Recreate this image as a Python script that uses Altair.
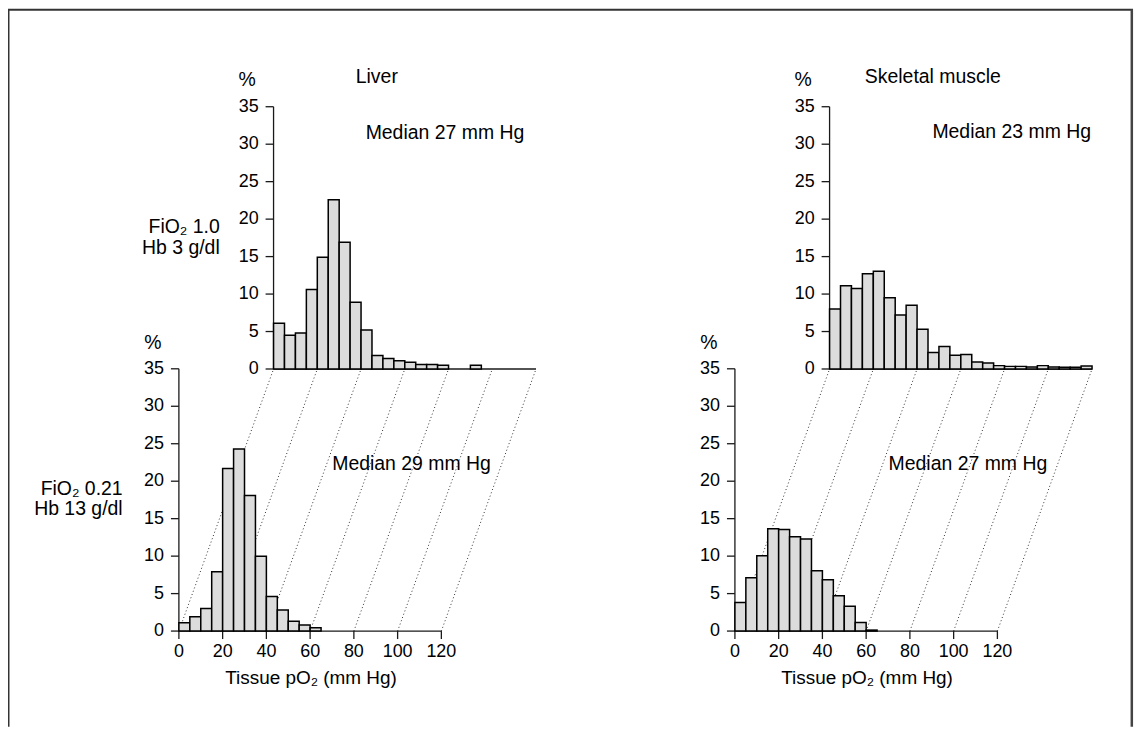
import altair as alt
import pandas as pd

# ---------------- data ----------------
BIN_WIDTH = 5
X_TICKS = [0, 20, 40, 60, 80, 100, 120]
Y_TICKS = [0, 5, 10, 15, 20, 25, 30, 35]

# % of measurements per 5 mm Hg bin, starting at 0 mm Hg
liver_fio2_100 = [6.1, 4.5, 4.8, 10.6, 14.9, 22.6, 16.9, 8.9, 5.2, 1.8, 1.4, 1.1,
                  0.9, 0.6, 0.6, 0.5, 0.0, 0.0, 0.5]
liver_fio2_021 = [1.1, 1.9, 3.0, 7.9, 21.7, 24.3, 18.1, 10.0, 4.6, 2.8, 1.3, 0.8, 0.45]
muscle_fio2_100 = [8.0, 11.1, 10.75, 12.7, 13.05, 9.5, 7.2, 8.5, 5.3, 2.2, 3.0, 1.85,
                   1.95, 0.93, 0.8, 0.45, 0.35, 0.35, 0.27, 0.45, 0.27, 0.22, 0.22, 0.4]
muscle_fio2_021 = [3.8, 7.1, 10.05, 13.65, 13.55, 12.6, 12.3, 8.05, 6.85, 4.7, 3.3, 1.15, 0.13]

organs = ["Liver", "Skeletal muscle"]
medians_top = ["Median 27 mm Hg", "Median 23 mm Hg"]
medians_bottom = ["Median 29 mm Hg", "Median 27 mm Hg"]
cond_top = ["FiO₂ 1.0", "Hb 3 g/dl"]
cond_bottom = ["FiO₂ 0.21", "Hb 13 g/dl"]
x_title = "Tissue pO₂ (mm Hg)"
pct_label = "%"

# ---------------- layout ----------------
W, H = 1130, 720
PX_X = 2.195   # px per mm Hg
PX_Y = 7.52    # px per %
DX_TOP, DY_TOP = 95, 263   # offset of the back (top) panel
TICK = 8       # tick length, px
FONT = "Liberation Sans"
INK = "#1a1a1a"
TEXT_SIZE = 19.5
TITLE_SIZE = 19
TICK_SIZE = 18


def scales(ox, oy):
    x0 = -ox / PX_X
    y0 = (oy - H) / PX_Y
    xs = alt.Scale(domain=[x0, x0 + W / PX_X], nice=False, zero=False)
    ys = alt.Scale(domain=[y0, y0 + H / PX_Y], nice=False, zero=False)
    return xs, ys


def text_layer(rows, xs, ys, align, size=TEXT_SIZE):
    df = pd.DataFrame(rows, columns=["x", "y", "text"])
    return alt.Chart(df).mark_text(align=align, baseline="alphabetic", font=FONT,
                                   fontSize=size, color="black").encode(
        x=alt.X("x:Q", scale=xs, axis=None),
        y=alt.Y("y:Q", scale=ys, axis=None),
        text="text:N")


def segs(df, xs, ys, **style):
    return alt.Chart(df).mark_rule(**style).encode(
        x=alt.X("x:Q", scale=xs, axis=None), x2="x2:Q",
        y=alt.Y("y:Q", scale=ys, axis=None), y2="y2:Q")


def panel(values, ox, oy, top, left_texts, center_texts, right_texts, title_texts):
    xs, ys = scales(ox, oy)
    layers = []

    if not top:
        # dotted projection lines joining the tick marks of front and back panels
        g = pd.DataFrame({"x": X_TICKS})
        g["x2"] = g["x"] + DX_TOP / PX_X
        g["y"] = 0.0
        g["y2"] = DY_TOP / PX_Y
        layers.append(segs(g, xs, ys, color="#333", strokeWidth=1, strokeDash=[1, 2.5]))

    # axis lines
    ax = pd.DataFrame({"x": [0, 0], "x2": [X_TICKS[-1], 0], "y": [0, 0], "y2": [0, Y_TICKS[-1]]})
    layers.append(segs(ax, xs, ys, color=INK, strokeWidth=1.3))

    # y ticks + labels
    yt = pd.DataFrame({"y": Y_TICKS})
    yt["y2"] = yt["y"]
    yt["x"] = 0.0
    yt["x2"] = -TICK / PX_X
    layers.append(segs(yt, xs, ys, color=INK, strokeWidth=1.3))
    layers.append(alt.Chart(yt).mark_text(align="right", baseline="middle", dx=-(TICK + 7),
                                          font=FONT, fontSize=TICK_SIZE, color="black").encode(
        x=alt.X("x:Q", scale=xs, axis=None),
        y=alt.Y("y:Q", scale=ys, axis=None),
        text=alt.Text("y:Q", format="d")))

    if not top:
        xt = pd.DataFrame({"x": X_TICKS})
        xt["x2"] = xt["x"]
        xt["y"] = 0.0
        xt["y2"] = -TICK / PX_Y
        layers.append(segs(xt, xs, ys, color=INK, strokeWidth=1.3))
        layers.append(alt.Chart(xt).mark_text(align="center", baseline="top", dy=TICK + 4,
                                              font=FONT, fontSize=TICK_SIZE,
                                              color="black").encode(
            x=alt.X("x:Q", scale=xs, axis=None),
            y=alt.Y("y:Q", scale=ys, axis=None),
            text=alt.Text("x:Q", format="d")))

    # histogram bars
    df = pd.DataFrame({"start": [i * BIN_WIDTH for i in range(len(values))], "pct": values})
    df["end"] = df["start"] + BIN_WIDTH
    df["base"] = 0.0
    df = df[df["pct"] > 0]
    layers.append(alt.Chart(df).mark_rect(fill="#dcdcdc", stroke="black",
                                          strokeWidth=1.5).encode(
        x=alt.X("start:Q", scale=xs, axis=None), x2="end:Q",
        y=alt.Y("base:Q", scale=ys, axis=None), y2="pct:Q"))

    if left_texts:
        layers.append(text_layer(left_texts, xs, ys, "left"))
    if center_texts:
        layers.append(text_layer(center_texts, xs, ys, "center"))
    if right_texts:
        layers.append(text_layer(right_texts, xs, ys, "right"))
    if title_texts:
        layers.append(text_layer(title_texts, xs, ys, "center", TITLE_SIZE))
    return alt.layer(*layers)


# panel origins (x=0, y=0) in chart pixels
LB = (171.5, 624.0)
MB = (729.5, 624.0)
LT = (LB[0] + DX_TOP, LB[1] - DY_TOP)
MT = (MB[0] + DX_TOP, MB[1] - DY_TOP)

liver_top = panel(liver_fio2_100, *LT, True,
                  [(42.1, 30.7, medians_top[0])],
                  [(47.2, 38.1, organs[0]), (-12.1, 37.8, pct_label)],
                  [(-24.6, 18.2, cond_top[0]), (-24.6, 15.4, cond_top[1])],
                  [])
liver_bottom = panel(liver_fio2_021, *LB, False,
                     [(70.1, 21.45, medians_bottom[0])],
                     [(-11.9, 37.6, pct_label)],
                     [(-25.7, 18.2, cond_bottom[0]), (-25.7, 15.55, cond_bottom[1])],
                     [(60.4, -7.05, x_title)])
muscle_top = panel(muscle_fio2_100, *MT, True,
                   [(47.0, 30.85, medians_top[1])],
                   [(47.2, 38.1, organs[1]), (-12.1, 37.8, pct_label)],
                   [], [])
muscle_bottom = panel(muscle_fio2_021, *MB, False,
                      [(70.25, 21.45, medians_bottom[1])],
                      [(-11.9, 37.6, pct_label)],
                      [],
                      [(60.4, -7.05, x_title)])

frame_src = alt.Chart(pd.DataFrame({"a": [0]}))
frame = alt.layer(
    frame_src.mark_rule(color="#333", strokeWidth=2).encode(
        x=alt.value(0.5), y=alt.value(0), y2=alt.value(H)),
    frame_src.mark_rule(color="#333", strokeWidth=2).encode(
        x=alt.value(0), x2=alt.value(1129), y=alt.value(0.5)),
    frame_src.mark_rule(color="#444", strokeWidth=2.5).encode(
        x=alt.value(1127.8), y=alt.value(0), y2=alt.value(H)),
)

chart = alt.layer(liver_bottom, liver_top, muscle_bottom, muscle_top, frame).resolve_scale(
    x="independent", y="independent"
).properties(
    width=W, height=H, padding=0, autosize=alt.AutoSizeParams(type="none"),
    background="white"
).configure_view(stroke=None)

chart.save("out.html", embed_options={"renderer": "svg", "actions": False})
